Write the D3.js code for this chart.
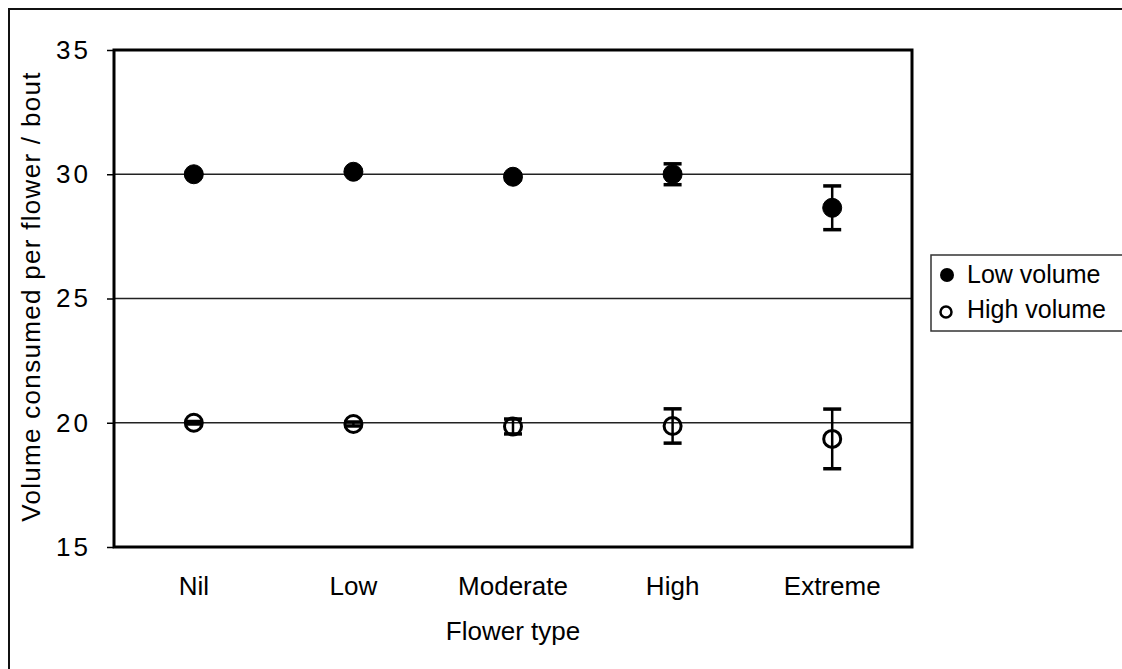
<!DOCTYPE html>
<html>
<head>
<meta charset="utf-8">
<script src="https://cdn.jsdelivr.net/npm/d3@7/dist/d3.min.js"></script>
<style>
  body { margin: 0; background: #fff; }
  text { font-family: "Liberation Sans", Arial, Helvetica, sans-serif; fill: #000; }
</style>
</head>
<body>
<script>
const width = 1122;
const height = 669;

// data
const categories = ["Nil", "Low", "Moderate", "High", "Extreme"];
const lowVolume = [30.0, 30.1, 29.9, 30.0, 28.65];
const lowVolumeErr = [0.05, 0.08, 0.12, 0.42, 0.88];
const highVolume = [20.0, 19.95, 19.85, 19.87, 19.35];
const highVolumeErr = [0.05, 0.08, 0.3, 0.69, 1.2];
const yTicks = [15, 20, 25, 30, 35];
const gridValues = [20, 25, 30];

const plotLeft = 114, plotRight = 912, plotTop = 50, plotBottom = 547;

const svg = d3.select('body')
  .append('svg')
  .attr('width', width)
  .attr('height', height);

// outer frame (clipped by page edge)
svg.append('path')
  .attr('d', `M9,${height + 5} L9,9 L${width + 5},9`)
  .attr('fill', 'none')
  .attr('stroke', '#111')
  .attr('stroke-width', 2);

const x = d3.scaleBand()
  .domain(categories)
  .range([plotLeft, plotRight]);

const y = d3.scaleLinear()
  .domain([15, 35])
  .range([plotBottom, plotTop]);

// gridlines
svg.selectAll('line.grid')
  .data(gridValues)
  .enter()
  .append('line')
  .attr('class', 'grid')
  .attr('x1', plotLeft)
  .attr('x2', plotRight)
  .attr('y1', d => y(d))
  .attr('y2', d => y(d))
  .attr('stroke', '#222')
  .attr('stroke-width', 1.3);

// y axis with ticks
const yAxis = svg.append('g')
  .attr('transform', `translate(${plotLeft},0)`)
  .call(d3.axisLeft(y).tickValues(yTicks).tickSize(7).tickPadding(16));
yAxis.select('.domain').remove();
yAxis.selectAll('line').attr('stroke', '#000').attr('stroke-width', 1.5);
yAxis.selectAll('text')
  .attr('font-size', 26)
  .attr('letter-spacing', 3)
  .attr('fill', '#000')
  .attr('font-family', '"Liberation Sans", Arial, sans-serif');

// x axis labels
const xAxis = svg.append('g')
  .attr('transform', `translate(0,${plotBottom})`)
  .call(d3.axisBottom(x).tickSize(0).tickPadding(30));
xAxis.select('.domain').remove();
xAxis.selectAll('text')
  .attr('font-size', 26)
  .attr('fill', '#000')
  .attr('font-family', '"Liberation Sans", Arial, sans-serif');

// plot border
svg.append('rect')
  .attr('x', plotLeft)
  .attr('y', plotTop)
  .attr('width', plotRight - plotLeft)
  .attr('height', plotBottom - plotTop)
  .attr('fill', 'none')
  .attr('stroke', '#000')
  .attr('stroke-width', 3);

const cx = d => x(d) + x.bandwidth() / 2;

function drawSeries(values, errs, filled) {
  const g = svg.append('g');
  const pts = categories.map((c, i) => ({ c: c, v: values[i], e: errs[i] }));
  const capW = 9;
  pts.forEach(p => {
    g.append('line')
      .attr('x1', cx(p.c)).attr('x2', cx(p.c))
      .attr('y1', y(p.v + p.e)).attr('y2', y(p.v - p.e))
      .attr('stroke', '#000').attr('stroke-width', 2.5);
    [p.v + p.e, p.v - p.e].forEach(v => {
      g.append('line')
        .attr('x1', cx(p.c) - capW).attr('x2', cx(p.c) + capW)
        .attr('y1', y(v)).attr('y2', y(v))
        .attr('stroke', '#000').attr('stroke-width', 3.5);
    });
  });
  g.selectAll('circle')
    .data(pts)
    .enter()
    .append('circle')
    .attr('cx', d => cx(d.c))
    .attr('cy', d => y(d.v))
    .attr('r', filled ? 9.5 : 8.5)
    .attr('fill', filled ? '#000' : 'none')
    .attr('stroke', '#000')
    .attr('stroke-width', filled ? 1 : 3);
}

drawSeries(lowVolume, lowVolumeErr, true);
drawSeries(highVolume, highVolumeErr, false);

// axis titles
svg.append('text')
  .text('Flower type')
  .attr('x', (plotLeft + plotRight) / 2)
  .attr('y', 640)
  .attr('text-anchor', 'middle')
  .attr('font-size', 26);

svg.append('text')
  .text('Volume consumed per flower / bout')
  .attr('transform', `translate(40,${(70 + 523) / 2}) rotate(-90)`)
  .attr('text-anchor', 'middle')
  .attr('font-size', 26)
  .attr('letter-spacing', 1.3);

// legend
const legend = svg.append('g');
legend.append('rect')
  .attr('x', 931)
  .attr('y', 255)
  .attr('width', 220)
  .attr('height', 76)
  .attr('fill', '#fff')
  .attr('stroke', '#333')
  .attr('stroke-width', 1.5);
legend.append('circle')
  .attr('cx', 947).attr('cy', 275).attr('r', 7)
  .attr('fill', '#000');
legend.append('circle')
  .attr('cx', 946).attr('cy', 312).attr('r', 5.5)
  .attr('fill', 'none').attr('stroke', '#000').attr('stroke-width', 2.5);
legend.append('text')
  .text('Low volume')
  .attr('x', 967).attr('y', 283)
  .attr('font-size', 25);
legend.append('text')
  .text('High volume')
  .attr('x', 967).attr('y', 318)
  .attr('font-size', 25);
</script>
</body>
</html>
